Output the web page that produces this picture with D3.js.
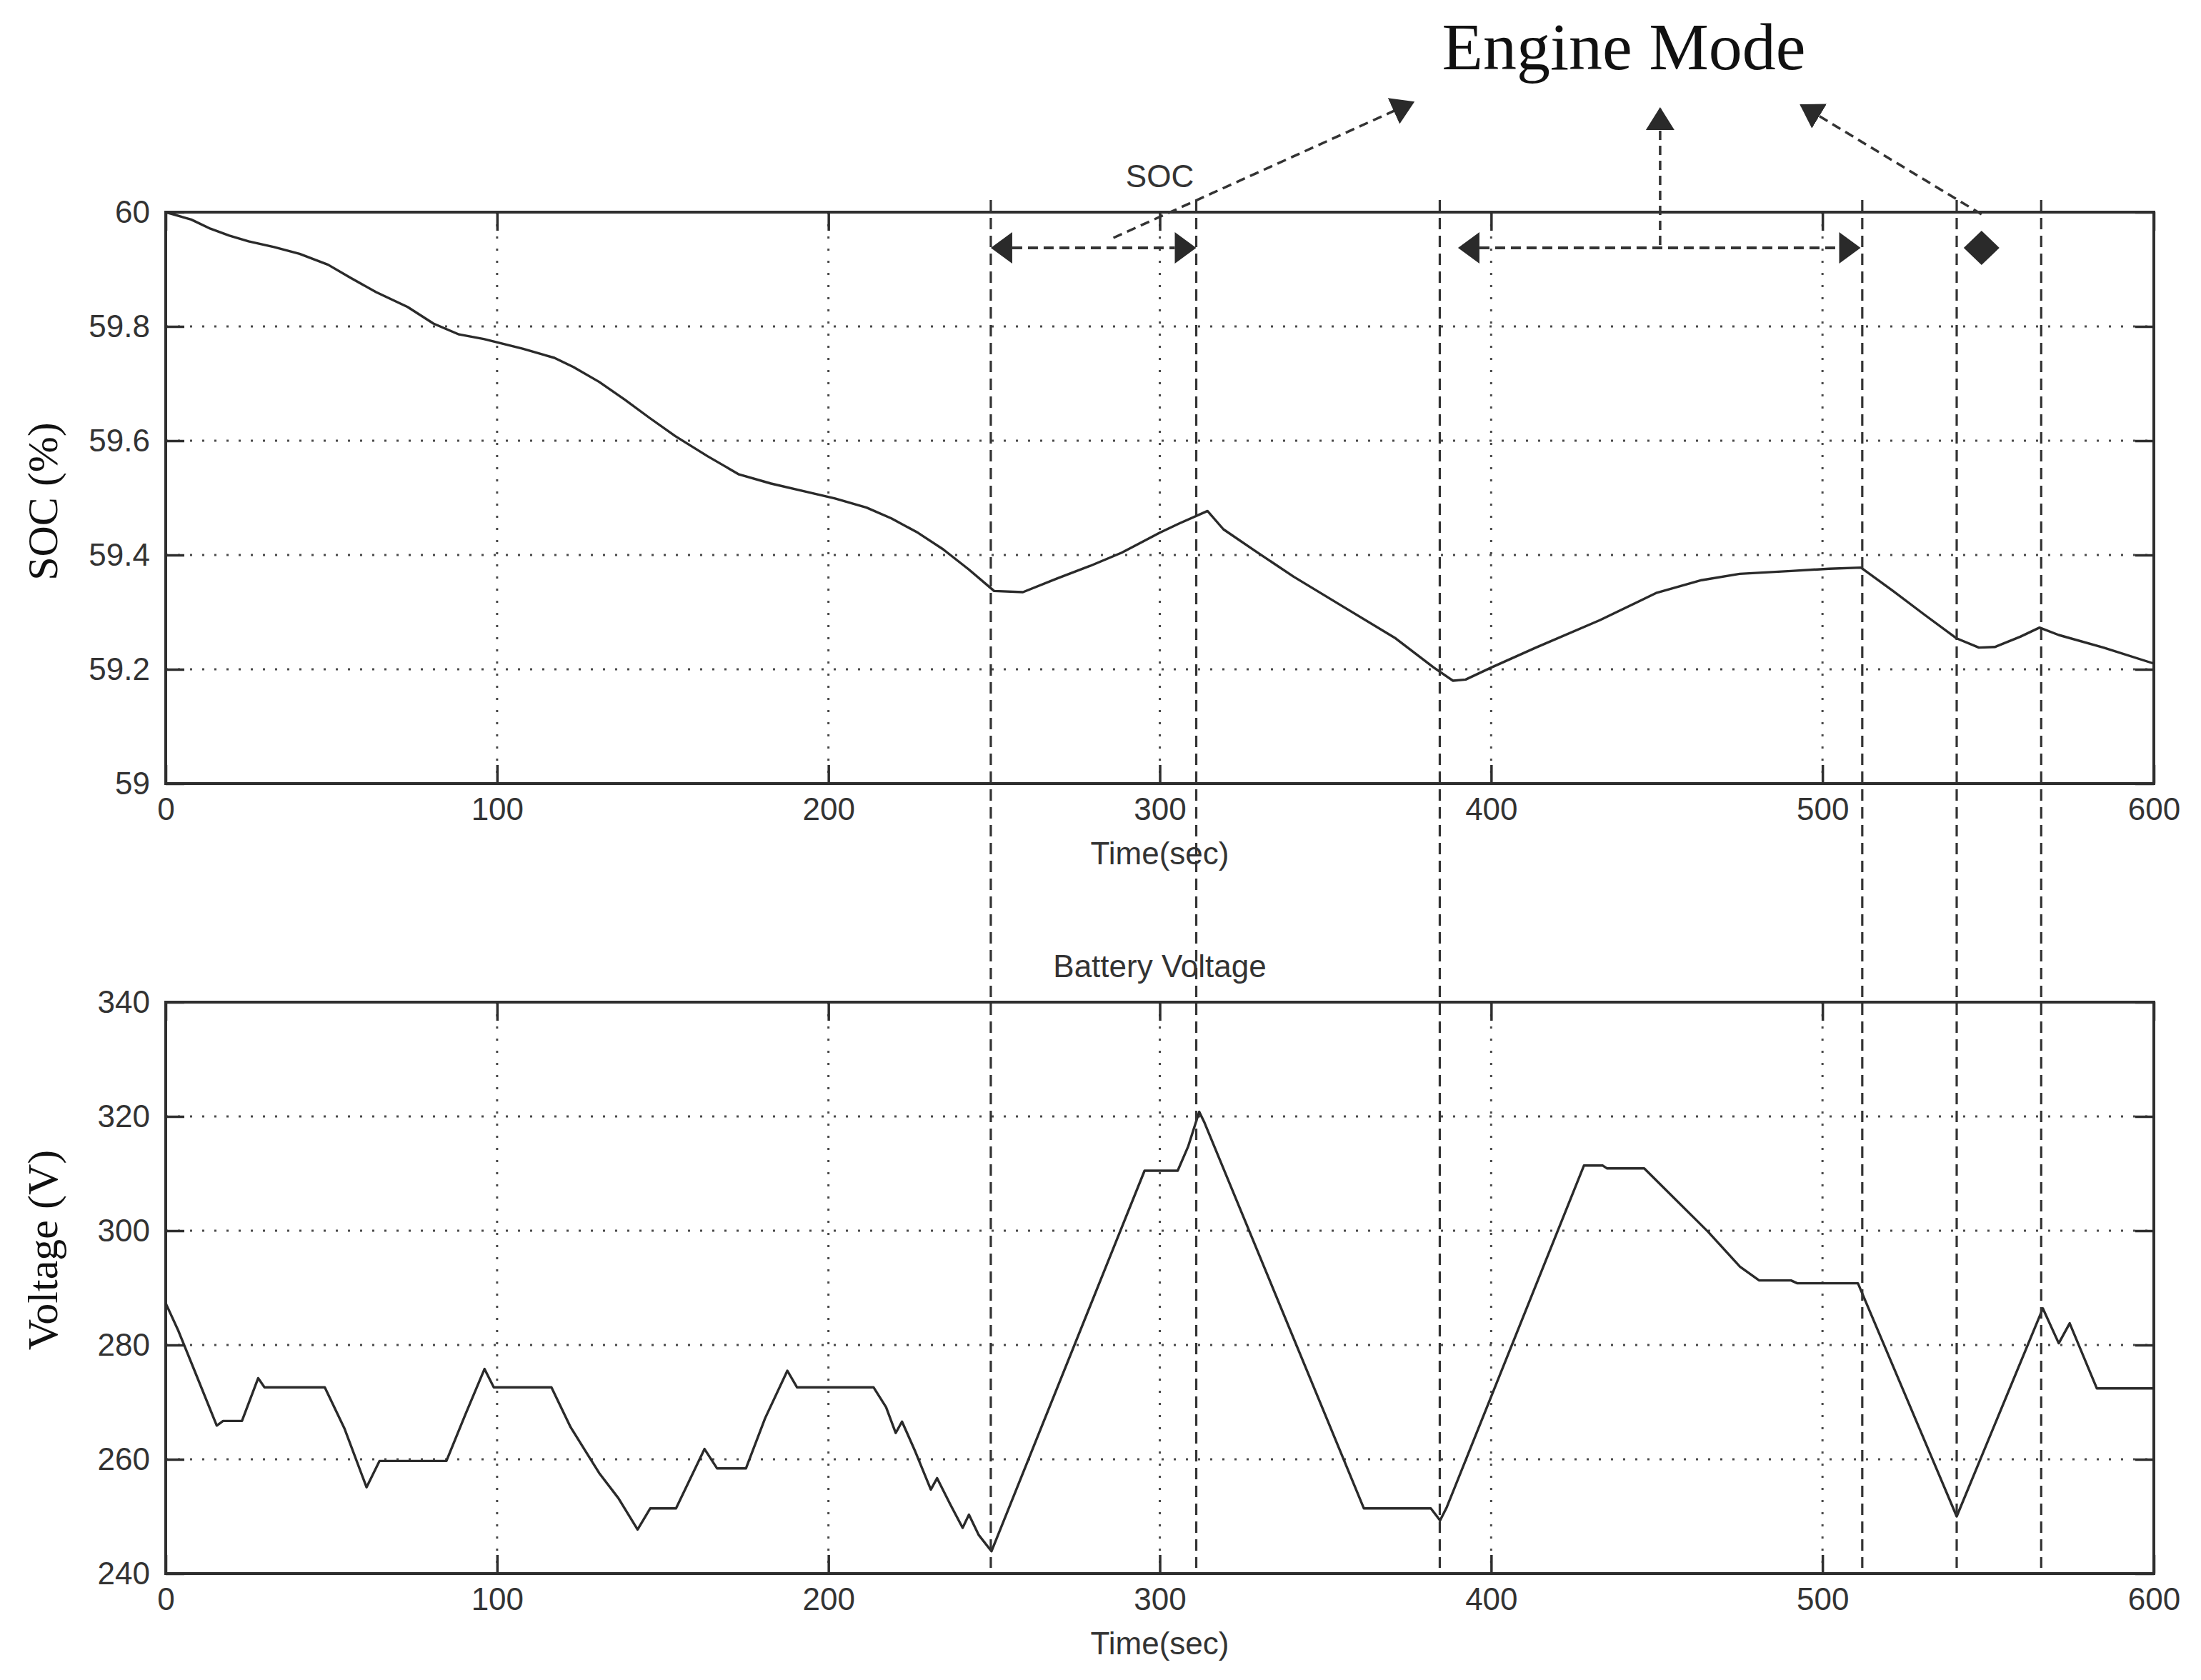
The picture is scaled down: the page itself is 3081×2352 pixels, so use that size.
<!DOCTYPE html>
<html>
<head>
<meta charset="utf-8">
<script src="https://cdn.jsdelivr.net/npm/d3@7"></script>
<style>
  body { margin: 0; background: #fff; }
  svg { display: block; }
</style>
</head>
<body>
<svg id="chart" width="3081" height="2352"></svg>
<script>
// SOC trace (time in sec, SOC in %)
const socTime = [0, 7.7, 13.5, 19.2, 25, 32.7, 40.4, 49, 55.8, 63.5, 73, 80.8, 88.5, 96, 107.7, 117.3, 123, 130.8, 138.5, 146, 153.8, 163.5, 173, 182.7, 192.3, 202, 211.5, 219, 227, 234.6, 242.3, 250, 258.7, 269, 279, 288.5, 300, 305.8, 314.4, 319.2, 328.8, 340.4, 355.8, 371.2, 382.7, 388.5, 392.3, 400, 413.5, 432.8, 450, 463.5, 475, 490.5, 502, 511.6, 521.3, 530.9, 540.5, 547.2, 552, 559.7, 565.5, 571.3, 584.8, 600];
const socValue = [60, 59.987, 59.971, 59.959, 59.949, 59.939, 59.927, 59.908, 59.885, 59.86, 59.834, 59.805, 59.786, 59.778, 59.761, 59.745, 59.729, 59.703, 59.672, 59.64, 59.608, 59.573, 59.541, 59.525, 59.512, 59.499, 59.483, 59.464, 59.439, 59.41, 59.375, 59.337, 59.335, 59.359, 59.381, 59.404, 59.439, 59.455, 59.477, 59.445, 59.407, 59.362, 59.308, 59.254, 59.203, 59.18, 59.182, 59.203, 59.238, 59.286, 59.334, 59.356, 59.367, 59.372, 59.376, 59.378, 59.337, 59.295, 59.254, 59.238, 59.239, 59.257, 59.273, 59.26, 59.238, 59.21];

// battery voltage trace (time in sec, volts)
const voltTime = [0, 3.8, 8.7, 15.4, 17.3, 23, 27.9, 29.8, 48, 54, 60.6, 64.5, 84.7, 90.4, 96.2, 99, 116.4, 122.2, 130.8, 136.6, 142.4, 146.2, 154, 162.6, 166.4, 175.1, 180.9, 187.6, 190.5, 213.6, 217.4, 220.3, 222.2, 226.1, 230.9, 232.8, 236.7, 240.5, 242.4, 245.3, 249.2, 295.4, 305.4, 308.6, 311.9, 313.5, 361.6, 381.8, 384.6, 386.6, 428, 433.7, 435, 446.2, 465.5, 475.1, 480.9, 490.5, 492.4, 510.7, 540.5, 566.5, 571.3, 574.6, 582.8, 600];
const voltValue = [287.3, 282.5, 275.5, 265.9, 266.7, 266.7, 274.2, 272.6, 272.6, 265.3, 255.1, 259.7, 259.7, 267.8, 275.8, 272.6, 272.6, 265.6, 257.6, 253.2, 247.7, 251.4, 251.4, 261.8, 258.4, 258.4, 267.2, 275.5, 272.6, 272.6, 269.1, 264.6, 266.6, 261.5, 254.7, 256.7, 252.2, 248.0, 250.3, 246.8, 243.9, 310.5, 310.5, 314.8, 320.8, 318.9, 251.4, 251.4, 249.3, 251.6, 311.4, 311.4, 310.9, 310.9, 299.8, 293.7, 291.3, 291.3, 290.8, 290.8, 250, 286.4, 280.3, 283.8, 272.4, 272.4];

// axis ticks
const timeTicks = [0, 100, 200, 300, 400, 500, 600];
const socTicks = [59, 59.2, 59.4, 59.6, 59.8, 60];
const voltTicks = [240, 260, 280, 300, 320, 340];

// engine mode markers (sec)
const modeLines = [249, 311, 384.5, 512, 540.5, 566];
const modeSpans = [[249, 311], [390, 511.5]];
const modeDiamond = [548];
// pointers to the "Engine Mode" label: [from time, to time]
const pointerTimes = [[286, 376.5], [451, 451], [548, 493.5]];

const svg = d3.select("#chart");
const W = 3081, H = 2352;
const left = 232, right = 3015;
const panelTop = [297, 1403];
const panelH = 800;
const tickLen = 26;
const ink = "#2e2e2e";
const sans = "'Liberation Sans', Arial, sans-serif";
const serif = "'Liberation Serif', 'Times New Roman', serif";

svg.append("rect").attr("width", W).attr("height", H).attr("fill", "#fff");

let x = d3.scaleLinear().domain([0, 600]).range([left, right]);

let drawPanel = (top, yDomain, yTicks, yFormat, times, values, title, yLabel, yLabelCenter) => {
  let y = d3.scaleLinear().domain(yDomain).range([top + panelH, top]);
  let g = svg.append("g");

  // dotted grid
  g.append("g")
    .selectAll("line")
    .data(timeTicks.slice(1, -1))
    .enter()
    .append("line")
    .attr("x1", (d) => x(d))
    .attr("x2", (d) => x(d))
    .attr("y1", top)
    .attr("y2", top + panelH)
    .attr("stroke", "#4a4a4a")
    .attr("stroke-width", 3)
    .attr("stroke-dasharray", "3 14");

  g.append("g")
    .selectAll("line")
    .data(yTicks.slice(1, -1))
    .enter()
    .append("line")
    .attr("x1", left)
    .attr("x2", right)
    .attr("y1", (d) => y(d))
    .attr("y2", (d) => y(d))
    .attr("stroke", "#4a4a4a")
    .attr("stroke-width", 3)
    .attr("stroke-dasharray", "3 14");

  // axes, ticks pointing inward on all four sides
  let styleAxis = (sel) => {
    sel.select(".domain").remove();
    sel.selectAll(".tick line").attr("stroke", ink).attr("stroke-width", 3.5);
    sel.selectAll("text")
      .attr("font-family", sans)
      .attr("font-size", 44)
      .attr("fill", "#333");
  };

  g.append("g")
    .attr("transform", `translate(0, ${top + panelH})`)
    .call(d3.axisBottom(x).tickValues(timeTicks).tickSize(-tickLen).tickPadding(20))
    .call(styleAxis);

  g.append("g")
    .attr("transform", `translate(0, ${top})`)
    .call(d3.axisTop(x).tickValues(timeTicks).tickSize(-tickLen).tickFormat(""))
    .call(styleAxis);

  g.append("g")
    .attr("transform", `translate(${left}, 0)`)
    .call(d3.axisLeft(y).tickValues(yTicks).tickSize(-tickLen).tickPadding(22).tickFormat(yFormat))
    .call(styleAxis);

  g.append("g")
    .attr("transform", `translate(${right}, 0)`)
    .call(d3.axisRight(y).tickValues(yTicks).tickSize(-tickLen).tickFormat(""))
    .call(styleAxis);

  g.append("rect")
    .attr("x", left)
    .attr("y", top)
    .attr("width", right - left)
    .attr("height", panelH)
    .attr("fill", "none")
    .attr("stroke", ink)
    .attr("stroke-width", 4);

  // data line
  let line = d3.line()
    .x((d, i) => x(times[i]))
    .y((d) => y(d));

  g.append("path")
    .datum(values)
    .attr("d", line)
    .attr("fill", "none")
    .attr("stroke", "#2a2a2a")
    .attr("stroke-width", 3.4)
    .attr("stroke-linejoin", "round");

  // labels
  g.append("text")
    .text(title)
    .attr("x", (left + right) / 2)
    .attr("y", top - 35)
    .attr("text-anchor", "middle")
    .attr("font-family", sans)
    .attr("font-size", 44)
    .attr("fill", "#333");

  g.append("text")
    .text("Time(sec)")
    .attr("x", (left + right) / 2)
    .attr("y", top + panelH + 113)
    .attr("text-anchor", "middle")
    .attr("font-family", sans)
    .attr("font-size", 44)
    .attr("fill", "#333");

  g.append("text")
    .text(yLabel)
    .attr("transform", `translate(80, ${yLabelCenter}) rotate(-90)`)
    .attr("text-anchor", "middle")
    .attr("font-family", serif)
    .attr("font-size", 60)
    .attr("fill", "#111");

  return y;
};

drawPanel(panelTop[0], [59, 60], socTicks, d3.format(""), socTime, socValue, "SOC", "SOC (%)", 702);
drawPanel(panelTop[1], [240, 340], voltTicks, d3.format(""), voltTime, voltValue, "Battery Voltage", "Voltage (V)", 1750);

// engine mode annotation layer
let ann = svg.append("g");
let arrowY = panelTop[0] + 50;
let lineTop = panelTop[0] - 17;
let lineBottom = panelTop[1] + panelH - 8;

ann.selectAll("line.mode")
  .data(modeLines)
  .enter()
  .append("line")
  .attr("class", "mode")
  .attr("x1", (d) => x(d))
  .attr("x2", (d) => x(d))
  .attr("y1", lineTop)
  .attr("y2", lineBottom)
  .attr("stroke", "#333")
  .attr("stroke-width", 3.2)
  .attr("stroke-dasharray", "16 9");

let headLen = 30, headHalf = 22;

modeSpans.forEach((s) => {
  let x0 = x(s[0]), x1 = x(s[1]);
  ann.append("line")
    .attr("x1", x0 + headLen)
    .attr("x2", x1 - headLen)
    .attr("y1", arrowY)
    .attr("y2", arrowY)
    .attr("stroke", "#333")
    .attr("stroke-width", 4)
    .attr("stroke-dasharray", "14 8");
  ann.append("path")
    .attr("d", `M${x0},${arrowY} L${x0 + headLen},${arrowY - headHalf} L${x0 + headLen},${arrowY + headHalf} Z`)
    .attr("fill", "#2a2a2a");
  ann.append("path")
    .attr("d", `M${x1},${arrowY} L${x1 - headLen},${arrowY - headHalf} L${x1 - headLen},${arrowY + headHalf} Z`)
    .attr("fill", "#2a2a2a");
});

ann.selectAll("path.diamond")
  .data(modeDiamond)
  .enter()
  .append("path")
  .attr("class", "diamond")
  .attr("d", (d) => `M${x(d)},${arrowY - 24} L${x(d) + 25},${arrowY} L${x(d)},${arrowY + 24} L${x(d) - 25},${arrowY} Z`)
  .attr("fill", "#2a2a2a");

// pointers up to the label
svg.append("defs")
  .append("marker")
  .attr("id", "tip")
  .attr("markerUnits", "userSpaceOnUse")
  .attr("viewBox", "0 -22 32 44")
  .attr("refX", 30)
  .attr("refY", 0)
  .attr("markerWidth", 32)
  .attr("markerHeight", 44)
  .attr("orient", "auto")
  .append("path")
  .attr("d", "M0,-20 L32,0 L0,20 Z")
  .attr("fill", "#2a2a2a");

let pointerStartY = [panelTop[0] + 36, arrowY - 4, panelTop[0] + 3];
let pointerEndY = [143, 152, 147];

ann.selectAll("line.pointer")
  .data(pointerTimes)
  .enter()
  .append("line")
  .attr("class", "pointer")
  .attr("x1", (d) => x(d[0]))
  .attr("y1", (d, i) => pointerStartY[i])
  .attr("x2", (d) => x(d[1]))
  .attr("y2", (d, i) => pointerEndY[i])
  .attr("stroke", "#333")
  .attr("stroke-width", 3.5)
  .attr("stroke-dasharray", "13 8")
  .attr("marker-end", "url(#tip)");

svg.append("text")
  .text("Engine Mode")
  .attr("x", 2273)
  .attr("y", 97)
  .attr("text-anchor", "middle")
  .attr("font-family", serif)
  .attr("font-size", 94)
  .attr("fill", "#111");
</script>
</body>
</html>
